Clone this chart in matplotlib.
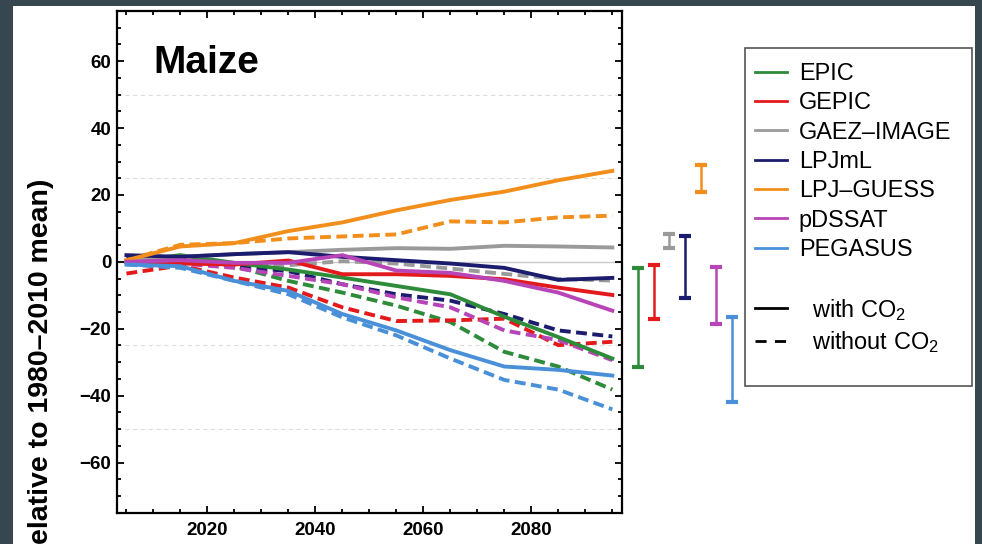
"""Maize yield change per crop model, with and without CO2 effects."""

import matplotlib
matplotlib.use("Agg")
import matplotlib.pyplot as plt
from matplotlib.lines import Line2D
from matplotlib.patches import Rectangle
from matplotlib.ticker import MultipleLocator

W, H = 982, 544

years = [2005, 2015, 2025, 2035, 2045, 2055, 2065, 2075, 2085, 2095]

models = ["EPIC", "GEPIC", "GAEZ–IMAGE", "LPJmL", "LPJ–GUESS", "pDSSAT", "PEGASUS"]
colors = ["#2e8b3a", "#e31a1c", "#9a9a9a", "#1c1c6e", "#f28e1c", "#b845b8", "#4a90d9"]

# yield change (%) with CO2 fertilisation
epic_co2 = [0, 2, -0.3, -2.3, -4.7, -7.2, -9.7, -16.4, -22.5, -28.9]
gepic_co2 = [0, -0.5, -0.8, 0.4, -3.7, -3.7, -4.2, -5.2, -7.7, -9.9]
gaez_co2 = [0.5, 1.5, 2.3, 2.9, 3.6, 4.1, 3.9, 4.8, 4.6, 4.3]
lpjml_co2 = [2, 1.5, 2.3, 2.9, 1.5, 0.5, -0.5, -1.8, -5.4, -4.8]
guess_co2 = [0.5, 4.6, 5.6, 9.2, 11.8, 15.4, 18.5, 21, 24.4, 27.2]
pdssat_co2 = [0, 0.5, -0.3, -0.3, 2, -2.6, -3.3, -5.7, -9.2, -14.6]
pegasus_co2 = [-0.8, -1.3, -5.7, -8.7, -15.6, -20.5, -26.4, -31.3, -32.3, -34]

# yield change (%) without CO2 fertilisation
epic_noco2 = [0, 1.2, -1.3, -5.7, -9.2, -13.1, -18, -26.9, -31.3, -38.2]
gepic_noco2 = [-3.5, -1.1, -4.7, -7.7, -13.6, -17.7, -17.5, -17, -24.9, -23.9]
gaez_noco2 = [0, 0, -0.8, -1, 0.2, -0.5, -2, -3.6, -5.1, -5.6]
lpjml_noco2 = [1, 0.7, -1.3, -2.8, -6.7, -9.7, -11.6, -15.6, -20.5, -22.3]
guess_noco2 = [0.5, 5.1, 5.6, 7, 7.6, 8.2, 12.1, 11.8, 13.3, 13.8]
pdssat_noco2 = [0, -0.5, -1.8, -4.2, -6.7, -10.6, -13.6, -20.5, -23.4, -29.4]
pegasus_noco2 = [-0.8, -1.8, -5.7, -9.7, -16.6, -22, -28.9, -35.3, -38.2, -44.1]

# ranges drawn to the right of the plot
range_low = [-31.4, -17.2, 4.0, -10.7, 21.0, -18.7, -41.8]
range_high = [-1.8, -1.0, 8.3, 7.8, 28.9, -1.6, -16.6]

grid_levels = [-50, -25, 25, 50]

series_co2 = [epic_co2, gepic_co2, gaez_co2, lpjml_co2, guess_co2, pdssat_co2, pegasus_co2]
series_noco2 = [epic_noco2, gepic_noco2, gaez_noco2, lpjml_noco2, guess_noco2, pdssat_noco2, pegasus_noco2]

plt.rcParams["font.family"] = ["Liberation Sans", "DejaVu Sans"]
plt.rcParams["font.weight"] = "bold"
plt.rcParams["mathtext.fontset"] = "custom"
plt.rcParams["mathtext.rm"] = "Liberation Sans"


def px(x0, y0, x1, y1):
    """Pixel box (top-left origin) -> figure fraction rect."""
    return [x0 / W, 1 - y1 / H, (x1 - x0) / W, (y1 - y0) / H]


fig = plt.figure(figsize=(W / 100, H / 100), dpi=100, facecolor="#37474f")
fig.patches.append(Rectangle((13 / W, 0), (975 - 13) / W, 1 - 6 / H, transform=fig.transFigure,
                             facecolor="white", edgecolor="none", zorder=-10))

ax = fig.add_axes(px(116.7, 11, 621.5, 512.7))
ax.set_xlim(2003.2, 2096.7)
ax.set_ylim(-75, 75)

ax.axhline(0, color="#c8c8c8", lw=1.0, zorder=1)
for lvl in grid_levels:
    ax.axhline(lvl, color="#dddddd", lw=0.8, dashes=(4, 3), zorder=1)

for color, y_noco2 in zip(colors, series_noco2):
    ax.plot(years, y_noco2, color=color, lw=2.8, dashes=(2.8, 1.4), zorder=2)
for color, y_co2 in zip(colors, series_co2):
    ax.plot(years, y_co2, color=color, lw=2.8, zorder=3)

ax.xaxis.set_major_locator(MultipleLocator(20))
ax.xaxis.set_minor_locator(MultipleLocator(5))
ax.yaxis.set_major_locator(MultipleLocator(20))
ax.yaxis.set_minor_locator(MultipleLocator(5))
ax.tick_params(which="both", direction="in", top=True, right=True, width=1.3, labelsize=13.5)
ax.tick_params(which="major", length=5)
ax.tick_params(which="minor", length=3)
ax.tick_params(axis="x", pad=7)
ax.tick_params(axis="y", pad=4)
for s in ax.spines.values():
    s.set_linewidth(1.6)

ax.text(0.0725, 0.877, "Maize", transform=ax.transAxes, fontsize=28, fontweight="bold", va="baseline")

fig.text(41 / W, 1 - 361 / H, "elative to 1980–2010 mean)", rotation=90, ha="center", va="center",
         fontsize=20.5, fontweight="bold")

# model ranges
ax2 = fig.add_axes(px(622.7, 11, 622.7 + 8 * 15.57, 512.7), sharey=ax)
ax2.set_xlim(0, 8)
ax2.axis("off")
for i, (color, lo, hi) in enumerate(zip(colors, range_low, range_high)):
    ax2.errorbar(i + 1, (lo + hi) / 2, yerr=(hi - lo) / 2, fmt="none", ecolor=color,
                 elinewidth=1.8, capsize=4, capthick=3)

# legend frame drawn separately so it spans the same box as the reference
fig.patches.append(Rectangle((744.5 / W, 1 - 386 / H), (972.3 - 744.5) / W, (386 - 48.3) / H,
                             transform=fig.transFigure, facecolor="white", edgecolor="#555555",
                             lw=1.2, zorder=5))

handles = [Line2D([], [], color=c, lw=2) for c in colors]
handles.append(Line2D([], [], color="none"))
handles.append(Line2D([], [], color="black", lw=2))
handles.append(Line2D([], [], color="black", lw=2, dashes=(4, 3)))
labels = models + [" ", r"  with CO$_\mathregular{2}$", r"  without CO$_\mathregular{2}$"]

leg = fig.legend(handles, labels, loc="upper left", bbox_to_anchor=(741 / W, 1 - 48.3 / H),
                 borderaxespad=0, prop={"size": 16.9, "weight": "normal"},
                 handlelength=1.36, handletextpad=0.52, borderpad=0.58, labelspacing=0.27,
                 frameon=False)
leg.set_zorder(6)

fig.savefig("out.png", dpi=100, facecolor=fig.get_facecolor())
plt.close(fig)
